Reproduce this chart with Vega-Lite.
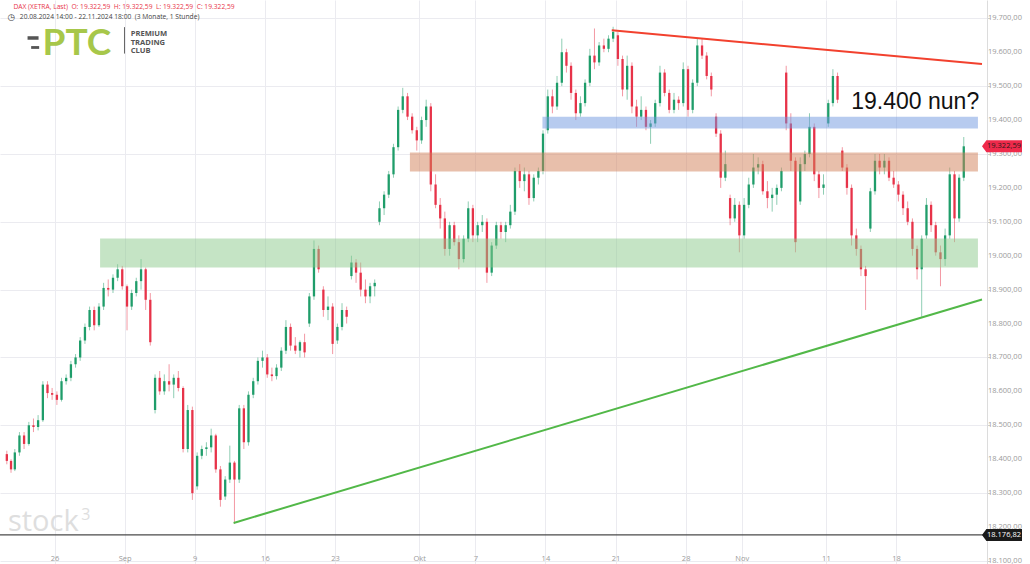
{
 "$schema": "https://vega.github.io/schema/vega-lite/v6.json",
 "width": 987,
 "height": 564,
 "autosize": {"type": "none"},
 "padding": {"left": 0, "top": 0, "right": 43, "bottom": 0},
 "background": "#ffffff",
 "config": {"view": {"stroke": null}, "font": "Open Sans"},
 "datasets": {
  "candles": [
   {"t":-3.4,"o":18415,"h":18425,"l":18385,"c":18395},
   {"t":-3.1,"o":18395,"h":18400,"l":18360,"c":18370},
   {"t":-2.83,"o":18370,"h":18430,"l":18365,"c":18420},
   {"t":-2.5,"o":18420,"h":18480,"l":18410,"c":18470},
   {"t":-2.17,"o":18470,"h":18480,"l":18430,"c":18445},
   {"t":-1.83,"o":18445,"h":18510,"l":18440,"c":18500},
   {"t":-1.5,"o":18500,"h":18520,"l":18480,"c":18495},
   {"t":-1.17,"o":18495,"h":18530,"l":18485,"c":18515},
   {"t":-0.83,"o":18515,"h":18630,"l":18510,"c":18620},
   {"t":-0.5,"o":18620,"h":18630,"l":18580,"c":18595},
   {"t":-0.17,"o":18595,"h":18610,"l":18575,"c":18590},
   {"t":0.17,"o":18590,"h":18600,"l":18560,"c":18575},
   {"t":0.5,"o":18575,"h":18640,"l":18570,"c":18630},
   {"t":0.83,"o":18630,"h":18650,"l":18620,"c":18640},
   {"t":1.17,"o":18640,"h":18690,"l":18630,"c":18680},
   {"t":1.5,"o":18680,"h":18710,"l":18670,"c":18700},
   {"t":1.83,"o":18700,"h":18760,"l":18690,"c":18750},
   {"t":2.17,"o":18750,"h":18800,"l":18740,"c":18790},
   {"t":2.5,"o":18790,"h":18850,"l":18780,"c":18840},
   {"t":2.83,"o":18840,"h":18850,"l":18780,"c":18795},
   {"t":3.17,"o":18795,"h":18860,"l":18790,"c":18850},
   {"t":3.5,"o":18850,"h":18920,"l":18840,"c":18905},
   {"t":3.83,"o":18905,"h":18930,"l":18880,"c":18900},
   {"t":4.17,"o":18900,"h":18945,"l":18890,"c":18935},
   {"t":4.5,"o":18935,"h":18975,"l":18925,"c":18960},
   {"t":4.83,"o":18960,"h":18970,"l":18900,"c":18910},
   {"t":5.17,"o":18910,"h":18915,"l":18780,"c":18850},
   {"t":5.5,"o":18850,"h":18900,"l":18840,"c":18890},
   {"t":5.83,"o":18890,"h":18935,"l":18880,"c":18925},
   {"t":6.17,"o":18925,"h":18990,"l":18900,"c":18960},
   {"t":6.5,"o":18960,"h":18965,"l":18840,"c":18870},
   {"t":6.83,"o":18870,"h":18890,"l":18735,"c":18745},
   {"t":7.17,"o":18545,"h":18650,"l":18535,"c":18640},
   {"t":7.5,"o":18640,"h":18660,"l":18590,"c":18600},
   {"t":7.83,"o":18600,"h":18650,"l":18590,"c":18630},
   {"t":8.17,"o":18630,"h":18680,"l":18600,"c":18620},
   {"t":8.5,"o":18620,"h":18650,"l":18580,"c":18640},
   {"t":8.83,"o":18640,"h":18660,"l":18600,"c":18610},
   {"t":9.17,"o":18610,"h":18615,"l":18420,"c":18430},
   {"t":9.5,"o":18430,"h":18560,"l":18420,"c":18545},
   {"t":9.83,"o":18545,"h":18555,"l":18280,"c":18300},
   {"t":10.17,"o":18320,"h":18420,"l":18310,"c":18410},
   {"t":10.5,"o":18410,"h":18440,"l":18400,"c":18430},
   {"t":10.83,"o":18430,"h":18450,"l":18410,"c":18435},
   {"t":11.17,"o":18435,"h":18490,"l":18420,"c":18470},
   {"t":11.5,"o":18470,"h":18475,"l":18360,"c":18370},
   {"t":11.83,"o":18370,"h":18380,"l":18260,"c":18280},
   {"t":12.17,"o":18290,"h":18350,"l":18280,"c":18340},
   {"t":12.5,"o":18340,"h":18440,"l":18330,"c":18390},
   {"t":12.83,"o":18390,"h":18395,"l":18210,"c":18340},
   {"t":13.17,"o":18340,"h":18560,"l":18330,"c":18550},
   {"t":13.5,"o":18550,"h":18560,"l":18430,"c":18450},
   {"t":13.83,"o":18450,"h":18600,"l":18440,"c":18590},
   {"t":14.17,"o":18590,"h":18640,"l":18580,"c":18630},
   {"t":14.5,"o":18630,"h":18700,"l":18620,"c":18690},
   {"t":14.83,"o":18690,"h":18720,"l":18670,"c":18700},
   {"t":15.17,"o":18700,"h":18710,"l":18640,"c":18650},
   {"t":15.5,"o":18650,"h":18670,"l":18630,"c":18645},
   {"t":15.83,"o":18645,"h":18680,"l":18635,"c":18670},
   {"t":16.17,"o":18670,"h":18730,"l":18660,"c":18720},
   {"t":16.5,"o":18720,"h":18810,"l":18710,"c":18790},
   {"t":16.83,"o":18790,"h":18800,"l":18720,"c":18735},
   {"t":17.17,"o":18735,"h":18760,"l":18710,"c":18720},
   {"t":17.5,"o":18720,"h":18750,"l":18700,"c":18745},
   {"t":17.83,"o":18745,"h":18770,"l":18700,"c":18715},
   {"t":18.17,"o":18800,"h":18890,"l":18790,"c":18880},
   {"t":18.5,"o":18880,"h":19045,"l":18870,"c":19020},
   {"t":18.83,"o":19020,"h":19030,"l":18950,"c":18960},
   {"t":19.17,"o":18900,"h":18910,"l":18820,"c":18840},
   {"t":19.5,"o":18840,"h":18880,"l":18810,"c":18850},
   {"t":19.83,"o":18850,"h":18860,"l":18710,"c":18740},
   {"t":20.17,"o":18750,"h":18800,"l":18740,"c":18790},
   {"t":20.5,"o":18790,"h":18860,"l":18780,"c":18840},
   {"t":20.83,"o":18840,"h":18850,"l":18800,"c":18820},
   {"t":21.17,"o":18940,"h":19000,"l":18930,"c":18980},
   {"t":21.5,"o":18980,"h":18990,"l":18920,"c":18950},
   {"t":21.83,"o":18950,"h":18980,"l":18880,"c":18900},
   {"t":22.17,"o":18900,"h":18930,"l":18860,"c":18880},
   {"t":22.5,"o":18880,"h":18920,"l":18860,"c":18910},
   {"t":22.83,"o":18910,"h":18930,"l":18880,"c":18920},
   {"t":23.17,"o":19100,"h":19160,"l":19090,"c":19140},
   {"t":23.5,"o":19140,"h":19190,"l":19120,"c":19180},
   {"t":23.83,"o":19180,"h":19250,"l":19170,"c":19240},
   {"t":24.17,"o":19240,"h":19330,"l":19230,"c":19320},
   {"t":24.5,"o":19320,"h":19440,"l":19310,"c":19430},
   {"t":24.83,"o":19430,"h":19495,"l":19420,"c":19470},
   {"t":25.17,"o":19470,"h":19480,"l":19400,"c":19410},
   {"t":25.5,"o":19410,"h":19420,"l":19360,"c":19370},
   {"t":25.83,"o":19370,"h":19380,"l":19310,"c":19340},
   {"t":26.17,"o":19340,"h":19410,"l":19330,"c":19400},
   {"t":26.5,"o":19400,"h":19460,"l":19380,"c":19440},
   {"t":26.83,"o":19440,"h":19450,"l":19190,"c":19210},
   {"t":27.17,"o":19210,"h":19240,"l":19140,"c":19150},
   {"t":27.5,"o":19150,"h":19170,"l":19080,"c":19110},
   {"t":27.83,"o":19110,"h":19130,"l":19000,"c":19020},
   {"t":28.17,"o":19020,"h":19100,"l":19000,"c":19090},
   {"t":28.5,"o":19090,"h":19100,"l":19030,"c":19040},
   {"t":28.83,"o":19040,"h":19060,"l":18960,"c":18990},
   {"t":29.17,"o":18990,"h":19060,"l":18980,"c":19050},
   {"t":29.5,"o":19050,"h":19160,"l":19040,"c":19140},
   {"t":29.83,"o":19140,"h":19150,"l":19040,"c":19060},
   {"t":30.17,"o":19060,"h":19100,"l":19040,"c":19090},
   {"t":30.5,"o":19090,"h":19120,"l":19070,"c":19100},
   {"t":30.83,"o":19100,"h":19110,"l":18920,"c":18950},
   {"t":31.17,"o":18950,"h":19040,"l":18940,"c":19030},
   {"t":31.5,"o":19030,"h":19100,"l":19020,"c":19090},
   {"t":31.83,"o":19090,"h":19100,"l":19050,"c":19070},
   {"t":32.17,"o":19070,"h":19100,"l":19040,"c":19090},
   {"t":32.5,"o":19090,"h":19150,"l":19080,"c":19130},
   {"t":32.83,"o":19130,"h":19260,"l":19120,"c":19250},
   {"t":33.17,"o":19250,"h":19270,"l":19200,"c":19220},
   {"t":33.5,"o":19220,"h":19260,"l":19190,"c":19240},
   {"t":33.83,"o":19240,"h":19250,"l":19150,"c":19170},
   {"t":34.17,"o":19170,"h":19240,"l":19160,"c":19230},
   {"t":34.5,"o":19230,"h":19260,"l":19210,"c":19250},
   {"t":34.83,"o":19250,"h":19370,"l":19240,"c":19360},
   {"t":35.17,"o":19370,"h":19490,"l":19360,"c":19470},
   {"t":35.5,"o":19470,"h":19490,"l":19420,"c":19440},
   {"t":35.83,"o":19440,"h":19530,"l":19430,"c":19510},
   {"t":36.17,"o":19510,"h":19640,"l":19500,"c":19600},
   {"t":36.5,"o":19600,"h":19610,"l":19540,"c":19560},
   {"t":36.83,"o":19560,"h":19570,"l":19460,"c":19480},
   {"t":37.17,"o":19480,"h":19490,"l":19400,"c":19420},
   {"t":37.5,"o":19420,"h":19470,"l":19410,"c":19450},
   {"t":37.83,"o":19450,"h":19520,"l":19440,"c":19510},
   {"t":38.17,"o":19510,"h":19610,"l":19500,"c":19590},
   {"t":38.5,"o":19590,"h":19670,"l":19550,"c":19570},
   {"t":38.83,"o":19570,"h":19630,"l":19560,"c":19620},
   {"t":39.17,"o":19620,"h":19640,"l":19600,"c":19610},
   {"t":39.5,"o":19610,"h":19650,"l":19600,"c":19640},
   {"t":39.83,"o":19640,"h":19675,"l":19630,"c":19660},
   {"t":40.17,"o":19650,"h":19660,"l":19560,"c":19580},
   {"t":40.5,"o":19580,"h":19590,"l":19470,"c":19490},
   {"t":40.83,"o":19490,"h":19590,"l":19460,"c":19560},
   {"t":41.17,"o":19560,"h":19570,"l":19420,"c":19440},
   {"t":41.5,"o":19440,"h":19460,"l":19380,"c":19410},
   {"t":41.83,"o":19410,"h":19470,"l":19400,"c":19430},
   {"t":42.17,"o":19430,"h":19440,"l":19370,"c":19380},
   {"t":42.5,"o":19380,"h":19400,"l":19330,"c":19390},
   {"t":42.83,"o":19390,"h":19460,"l":19380,"c":19450},
   {"t":43.17,"o":19450,"h":19560,"l":19440,"c":19540},
   {"t":43.5,"o":19540,"h":19550,"l":19470,"c":19480},
   {"t":43.83,"o":19480,"h":19490,"l":19420,"c":19430},
   {"t":44.17,"o":19430,"h":19480,"l":19420,"c":19460},
   {"t":44.5,"o":19460,"h":19470,"l":19430,"c":19450},
   {"t":44.83,"o":19450,"h":19570,"l":19440,"c":19550},
   {"t":45.17,"o":19550,"h":19560,"l":19410,"c":19430},
   {"t":45.5,"o":19430,"h":19520,"l":19420,"c":19510},
   {"t":45.83,"o":19510,"h":19640,"l":19500,"c":19620},
   {"t":46.17,"o":19620,"h":19640,"l":19580,"c":19590},
   {"t":46.5,"o":19590,"h":19600,"l":19520,"c":19530},
   {"t":46.83,"o":19530,"h":19540,"l":19470,"c":19490},
   {"t":47.17,"o":19410,"h":19420,"l":19350,"c":19360},
   {"t":47.5,"o":19360,"h":19370,"l":19200,"c":19230},
   {"t":47.83,"o":19230,"h":19310,"l":19220,"c":19270},
   {"t":48.17,"o":19170,"h":19180,"l":19090,"c":19110},
   {"t":48.5,"o":19110,"h":19170,"l":19100,"c":19150},
   {"t":48.83,"o":19150,"h":19160,"l":19010,"c":19060},
   {"t":49.17,"o":19060,"h":19170,"l":19050,"c":19150},
   {"t":49.5,"o":19150,"h":19230,"l":19140,"c":19210},
   {"t":49.83,"o":19210,"h":19300,"l":19200,"c":19260},
   {"t":50.17,"o":19260,"h":19290,"l":19240,"c":19270},
   {"t":50.5,"o":19270,"h":19280,"l":19180,"c":19190},
   {"t":50.83,"o":19190,"h":19220,"l":19140,"c":19170},
   {"t":51.17,"o":19170,"h":19200,"l":19130,"c":19180},
   {"t":51.5,"o":19180,"h":19210,"l":19150,"c":19200},
   {"t":51.83,"o":19200,"h":19260,"l":19190,"c":19250},
   {"t":52.17,"o":19540,"h":19560,"l":19370,"c":19390},
   {"t":52.5,"o":19390,"h":19420,"l":19250,"c":19280},
   {"t":52.83,"o":19280,"h":19290,"l":19010,"c":19040},
   {"t":53.17,"o":19160,"h":19290,"l":19150,"c":19270},
   {"t":53.5,"o":19270,"h":19310,"l":19250,"c":19300},
   {"t":53.83,"o":19300,"h":19420,"l":19290,"c":19380},
   {"t":54.17,"o":19380,"h":19390,"l":19220,"c":19240},
   {"t":54.5,"o":19240,"h":19250,"l":19170,"c":19200},
   {"t":54.83,"o":19200,"h":19240,"l":19180,"c":19210},
   {"t":55.17,"o":19390,"h":19460,"l":19380,"c":19450},
   {"t":55.5,"o":19450,"h":19550,"l":19440,"c":19530},
   {"t":55.83,"o":19530,"h":19540,"l":19450,"c":19460},
   {"t":56.17,"o":19310,"h":19320,"l":19250,"c":19260},
   {"t":56.5,"o":19260,"h":19270,"l":19180,"c":19200},
   {"t":56.83,"o":19200,"h":19210,"l":19030,"c":19060},
   {"t":57.17,"o":19060,"h":19080,"l":19000,"c":19020},
   {"t":57.5,"o":19020,"h":19030,"l":18940,"c":18960},
   {"t":57.83,"o":18960,"h":18970,"l":18840,"c":18940},
   {"t":58.17,"o":19080,"h":19200,"l":19070,"c":19190},
   {"t":58.5,"o":19190,"h":19300,"l":19180,"c":19280},
   {"t":58.83,"o":19280,"h":19300,"l":19240,"c":19260},
   {"t":59.17,"o":19260,"h":19300,"l":19240,"c":19280},
   {"t":59.5,"o":19280,"h":19290,"l":19220,"c":19230},
   {"t":59.83,"o":19230,"h":19250,"l":19200,"c":19210},
   {"t":60.17,"o":19210,"h":19220,"l":19160,"c":19180},
   {"t":60.5,"o":19180,"h":19190,"l":19120,"c":19140},
   {"t":60.83,"o":19140,"h":19160,"l":19090,"c":19100},
   {"t":61.17,"o":19100,"h":19110,"l":19000,"c":19020},
   {"t":61.5,"o":19020,"h":19030,"l":18930,"c":18960},
   {"t":61.83,"o":18960,"h":19060,"l":18820,"c":19050},
   {"t":62.17,"o":19060,"h":19170,"l":19050,"c":19150},
   {"t":62.5,"o":19150,"h":19160,"l":19070,"c":19090},
   {"t":62.83,"o":19090,"h":19100,"l":19000,"c":19010},
   {"t":63.17,"o":19010,"h":19030,"l":18910,"c":18990},
   {"t":63.5,"o":18990,"h":19080,"l":18970,"c":19060},
   {"t":63.83,"o":19060,"h":19260,"l":19050,"c":19240},
   {"t":64.17,"o":19240,"h":19250,"l":19040,"c":19110},
   {"t":64.5,"o":19110,"h":19240,"l":19100,"c":19230},
   {"t":64.83,"o":19230,"h":19350,"l":19220,"c":19322.59}
  ],
  "bands": [
   {"name":"blue","x1":34.79,"x2":65.84,"lo":19375,"hi":19410},
   {"name":"salmon","x1":25.34,"x2":65.84,"lo":19248,"hi":19304},
   {"name":"green","x1":3.25,"x2":65.84,"lo":18965,"hi":19051}
  ],
  "trend": [
   {"name":"red","t":39.73,"v":19665},
   {"name":"red","t":66.13,"v":19565},
   {"name":"green","t":12.77,"v":18212},
   {"name":"green","t":66.13,"v":18871}
  ],
  "prices": [
   {"kind":"last","v":19322.59,"lbl":"19.322,59"},
   {"kind":"low","v":18176.82,"lbl":"18.176,82"}
  ],
  "ylabels": [
   {"v":18100,"lbl":"18.100,00"},{"v":18200,"lbl":"18.200,00"},{"v":18300,"lbl":"18.300,00"},
   {"v":18400,"lbl":"18.400,00"},{"v":18500,"lbl":"18.500,00"},{"v":18600,"lbl":"18.600,00"},
   {"v":18700,"lbl":"18.700,00"},{"v":18800,"lbl":"18.800,00"},{"v":18900,"lbl":"18.900,00"},
   {"v":19000,"lbl":"19.000,00"},{"v":19100,"lbl":"19.100,00"},{"v":19200,"lbl":"19.200,00"},
   {"v":19300,"lbl":"19.300,00"},{"v":19400,"lbl":"19.400,00"},{"v":19500,"lbl":"19.500,00"},
   {"v":19600,"lbl":"19.600,00"},{"v":19700,"lbl":"19.700,00"}
  ],
  "texts": [
   {"id":"note","t":56.81,"v":19433,"txt":"19.400 nun?"},
   {"id":"hdr1","t":-2.93,"v":19734,"txt":"DAX (XETRA, Last)\u00a0 O: 19.322,59\u00a0 H: 19.322,59\u00a0 L: 19.322,59\u00a0 C: 19.322,59"},
   {"id":"hdr2","t":-2.47,"v":19703,"txt":"20.08.2024 14:00 - 22.11.2024 18:00\u00a0 (3 Monate, 1 Stunde)"},
   {"id":"clock","t":-3.07,"v":19703,"txt":"◷"},
   {"id":"ptc","t":-0.85,"v":19592,"txt":"PTC"},
   {"id":"club","t":5.43,"v":19648,"txt":["PREMIUM","TRADING","CLUB"]},
   {"id":"stock","t":-3.32,"v":18188,"txt":"stock"},
   {"id":"three","t":1.9,"v":18221,"txt":"3"}
  ],
  "plug": [
   {"part":"top","t":-1.53,"v":19642},
   {"part":"bottom","t":-1.38,"v":19614}
  ],
  "divider": [
   {"t":4.99,"v1":19596,"v2":19674}
  ]
 },
 "layer": [
  {
   "data": {"name": "candles"},
   "mark": {"type": "rule", "strokeWidth": 1, "opacity": 0.5},
   "encoding": {
    "x": {"field": "t", "type": "quantitative",
     "scale": {"domain": [-3.53, 66.13], "nice": false, "zero": false},
     "axis": {"orient": "bottom", "offset": -13, "values": [0,5,10,15,20,26,30,35,40,45,49,55,60],
      "labelExpr": "['26','Sep','9','16','23','Okt','7','14','21','28','Nov','11','18'][indexof([0,5,10,15,20,26,30,35,40,45,49,55,60], datum.value)]",
      "domain": false, "ticks": false, "grid": true, "gridColor": "#ebebf0", "labelColor": "#9a9a9a",
      "labelFontSize": 7.5, "labelFont": "Open Sans", "labelPadding": 3, "title": null, "labelFlush": false, "labelOverlap": false}},
    "y": {"field": "l", "type": "quantitative",
     "scale": {"domain": [18091, 19754], "nice": false, "zero": false},
     "axis": {"orient": "right", "values": [18100,18200,18300,18400,18500,18600,18700,18800,18900,19000,19100,19200,19300,19400,19500,19600,19700],
      "labels": false, "grid": true, "gridColor": "#ebebf0", "domain": true, "domainColor": "#dcdcdc", "ticks": true, "tickColor": "#cfcfcf",
      "tickSize": 3, "title": null}},
    "y2": {"field": "h"},
    "color": {"condition": {"test": "datum.c >= datum.o", "value": "#1f9d6a"}, "value": "#e73349"}
   }
  },
  {
   "data": {"name": "candles"},
   "mark": {"type": "bar", "size": 2.3, "orient": "vertical"},
   "encoding": {
    "x": {"field": "t", "type": "quantitative"},
    "y": {"field": "o", "type": "quantitative"},
    "y2": {"field": "c"},
    "color": {"condition": {"test": "datum.c >= datum.o", "value": "#1f9d6a"}, "value": "#e73349"}
   }
  },
  {
   "data": {"name": "bands"},
   "mark": {"type": "rect", "opacity": 0.5},
   "encoding": {
    "x": {"field": "x1", "type": "quantitative"},
    "x2": {"field": "x2"},
    "y": {"field": "lo", "type": "quantitative"},
    "y2": {"field": "hi"},
    "color": {"field": "name", "type": "nominal", "legend": null,
     "scale": {"domain": ["blue", "salmon", "green"], "range": ["#6f97e0", "#d27f58", "#8bc98b"]}}
   }
  },
  {
   "data": {"name": "trend"},
   "transform": [{"filter": "datum.name == 'red'"}],
   "mark": {"type": "line", "color": "#f2412e", "strokeWidth": 2},
   "encoding": {"x": {"field": "t", "type": "quantitative"}, "y": {"field": "v", "type": "quantitative"}}
  },
  {
   "data": {"name": "trend"},
   "transform": [{"filter": "datum.name == 'green'"}],
   "mark": {"type": "line", "color": "#52b848", "strokeWidth": 2},
   "encoding": {"x": {"field": "t", "type": "quantitative"}, "y": {"field": "v", "type": "quantitative"}}
  },
  {
   "data": {"name": "prices"},
   "transform": [{"filter": "datum.kind == 'low'"}],
   "mark": {"type": "rule", "color": "#4a4a4a", "strokeWidth": 1.3},
   "encoding": {"y": {"field": "v", "type": "quantitative"}}
  },
  {
   "data": {"name": "ylabels"},
   "mark": {"type": "text", "dx": 6, "align": "left", "baseline": "middle", "fontSize": 7.5, "font": "Open Sans", "color": "#9a9a9a"},
   "encoding": {"x": {"datum": 66.13, "type": "quantitative"}, "y": {"field": "v", "type": "quantitative"}, "text": {"field": "lbl"}}
  },
  {
   "data": {"name": "prices"},
   "transform": [{"filter": "datum.kind == 'last'"}],
   "mark": {"type": "point", "shape": "M -1 0 L -0.78 -0.3 L 1 -0.3 L 1 0.3 L -0.78 0.3 Z", "size": 1600, "filled": true, "color": "#ef2a4b", "opacity": 1, "xOffset": 20},
   "encoding": {"x": {"datum": 66.13, "type": "quantitative"}, "y": {"field": "v", "type": "quantitative"}}
  },
  {
   "data": {"name": "prices"},
   "transform": [{"filter": "datum.kind == 'low'"}],
   "mark": {"type": "point", "shape": "M -1 0 L -0.78 -0.3 L 1 -0.3 L 1 0.3 L -0.78 0.3 Z", "size": 1600, "filled": true, "color": "#1a1a1a", "opacity": 1, "xOffset": 20},
   "encoding": {"x": {"datum": 66.13, "type": "quantitative"}, "y": {"field": "v", "type": "quantitative"}}
  },
  {
   "data": {"name": "prices"},
   "transform": [{"filter": "datum.kind == 'last'"}],
   "mark": {"type": "text", "dx": 22, "align": "center", "baseline": "middle", "fontSize": 7.5, "font": "Open Sans", "color": "#2a1a1a"},
   "encoding": {"x": {"datum": 66.13, "type": "quantitative"}, "y": {"field": "v", "type": "quantitative"}, "text": {"field": "lbl"}}
  },
  {
   "data": {"name": "prices"},
   "transform": [{"filter": "datum.kind == 'low'"}],
   "mark": {"type": "text", "dx": 22, "align": "center", "baseline": "middle", "fontSize": 7.5, "font": "Open Sans", "color": "#ffffff"},
   "encoding": {"x": {"datum": 66.13, "type": "quantitative"}, "y": {"field": "v", "type": "quantitative"}, "text": {"field": "lbl"}}
  },
  {
   "data": {"name": "texts"},
   "transform": [{"filter": "datum.id == 'note'"}],
   "mark": {"type": "text", "align": "left", "baseline": "alphabetic", "fontSize": 23, "font": "Liberation Sans", "color": "#111111"},
   "encoding": {"x": {"field": "t", "type": "quantitative"}, "y": {"field": "v", "type": "quantitative"}, "text": {"field": "txt"}}
  },
  {
   "data": {"name": "texts"},
   "transform": [{"filter": "datum.id == 'hdr1'"}],
   "mark": {"type": "text", "align": "left", "baseline": "middle", "fontSize": 6.7, "font": "Open Sans", "color": "#e8344a"},
   "encoding": {"x": {"field": "t", "type": "quantitative"}, "y": {"field": "v", "type": "quantitative"}, "text": {"field": "txt"}}
  },
  {
   "data": {"name": "texts"},
   "transform": [{"filter": "datum.id == 'hdr2'"}],
   "mark": {"type": "text", "align": "left", "baseline": "middle", "fontSize": 6.7, "font": "Open Sans", "color": "#444444"},
   "encoding": {"x": {"field": "t", "type": "quantitative"}, "y": {"field": "v", "type": "quantitative"}, "text": {"field": "txt"}}
  },
  {
   "data": {"name": "texts"},
   "transform": [{"filter": "datum.id == 'clock'"}],
   "mark": {"type": "text", "align": "center", "baseline": "middle", "fontSize": 9, "font": "DejaVu Sans", "color": "#444444"},
   "encoding": {"x": {"field": "t", "type": "quantitative"}, "y": {"field": "v", "type": "quantitative"}, "text": {"field": "txt"}}
  },
  {
   "data": {"name": "plug"},
   "transform": [{"filter": "datum.part == 'top'"}],
   "mark": {"type": "point", "shape": "M -1 -0.32 L 1 -0.32 L 1 0.32 L -1 0.32 Z", "size": 121, "filled": true, "color": "#555555", "opacity": 1},
   "encoding": {"x": {"field": "t", "type": "quantitative"}, "y": {"field": "v", "type": "quantitative"}}
  },
  {
   "data": {"name": "plug"},
   "transform": [{"filter": "datum.part == 'bottom'"}],
   "mark": {"type": "point", "shape": "M -1 -0.35 L 1 -0.35 L 1 0.35 L -1 0.35 Z", "size": 64, "filled": true, "color": "#555555", "opacity": 1},
   "encoding": {"x": {"field": "t", "type": "quantitative"}, "y": {"field": "v", "type": "quantitative"}}
  },
  {
   "data": {"name": "texts"},
   "transform": [{"filter": "datum.id == 'ptc'"}],
   "mark": {"type": "text", "align": "left", "baseline": "alphabetic", "fontSize": 37, "font": "Lato", "fontWeight": "bold", "color": "#a7c74a"},
   "encoding": {"x": {"field": "t", "type": "quantitative"}, "y": {"field": "v", "type": "quantitative"}, "text": {"field": "txt"}}
  },
  {
   "data": {"name": "texts"},
   "transform": [{"filter": "datum.id == 'club'"}],
   "mark": {"type": "text", "align": "left", "baseline": "alphabetic", "fontSize": 7.6, "lineHeight": 8.7, "font": "Open Sans", "fontWeight": "bold", "color": "#555555"},
   "encoding": {"x": {"field": "t", "type": "quantitative"}, "y": {"field": "v", "type": "quantitative"}, "text": {"field": "txt"}}
  },
  {
   "data": {"name": "divider"},
   "mark": {"type": "rule", "color": "#666666", "strokeWidth": 1},
   "encoding": {"x": {"field": "t", "type": "quantitative"}, "y": {"field": "v1", "type": "quantitative"}, "y2": {"field": "v2"}}
  },
  {
   "data": {"name": "texts"},
   "transform": [{"filter": "datum.id == 'stock'"}],
   "mark": {"type": "text", "align": "left", "baseline": "alphabetic", "fontSize": 29, "font": "Open Sans", "color": "#dedede"},
   "encoding": {"x": {"field": "t", "type": "quantitative"}, "y": {"field": "v", "type": "quantitative"}, "text": {"field": "txt"}}
  },
  {
   "data": {"name": "texts"},
   "transform": [{"filter": "datum.id == 'three'"}],
   "mark": {"type": "text", "align": "left", "baseline": "alphabetic", "fontSize": 16, "font": "Open Sans", "color": "#dedede"},
   "encoding": {"x": {"field": "t", "type": "quantitative"}, "y": {"field": "v", "type": "quantitative"}, "text": {"field": "txt"}}
  }
 ]
}
